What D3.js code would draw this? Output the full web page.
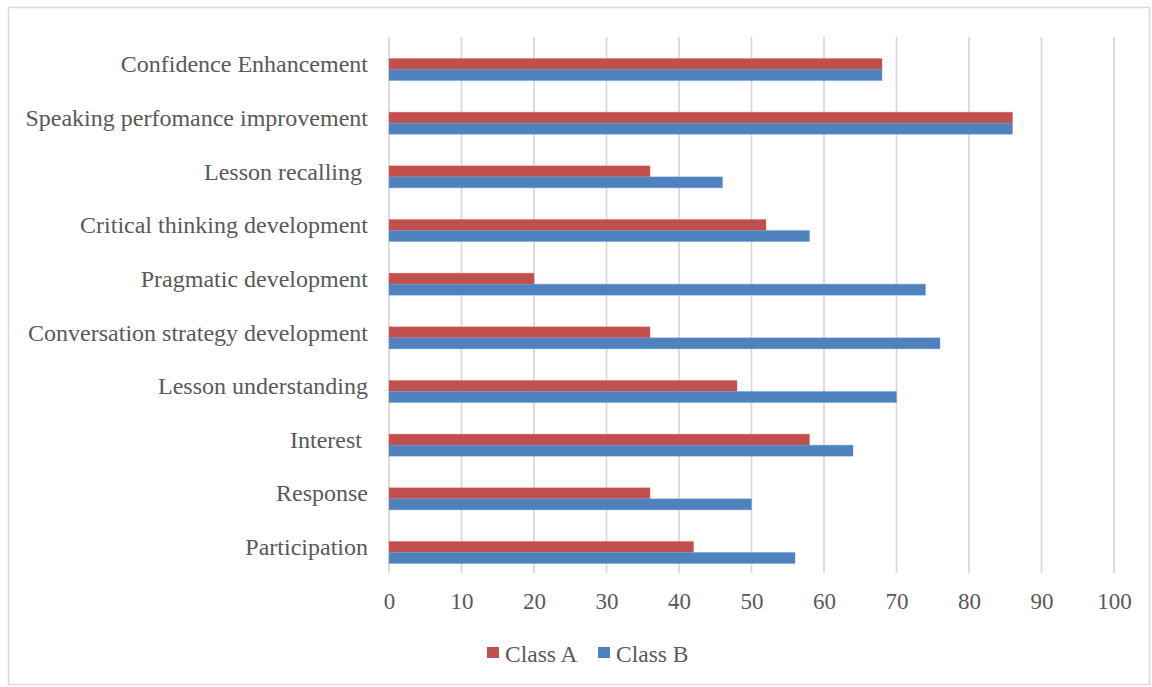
<!DOCTYPE html>
<html>
<head>
<meta charset="utf-8">
<script src="https://cdn.jsdelivr.net/npm/d3@7"></script>
<style>
  html, body { margin: 0; padding: 0; background: #fff; }
  svg { display: block; }
  text { font-family: "Liberation Serif", "Times New Roman", serif; fill: #595959; }
</style>
</head>
<body>
<svg id="chart" width="1152" height="687"></svg>
<script>
const categories = [
  "Confidence Enhancement",
  "Speaking perfomance improvement",
  "Lesson recalling ",
  "Critical thinking development",
  "Pragmatic development",
  "Conversation strategy development",
  "Lesson understanding",
  "Interest ",
  "Response",
  "Participation"
];
const classA = [68, 86, 36, 52, 20, 36, 48, 58, 36, 42];
const classB = [68, 86, 46, 58, 74, 76, 70, 64, 50, 56];
const seriesNames = ["Class A", "Class B"];
const seriesColors = ["#C0504D", "#4F81BD"];
const tickValues = [0, 10, 20, 30, 40, 50, 60, 70, 80, 90, 100];

const svg = d3.select("#chart");

// outer frame
svg.append("rect")
  .attr("x", 8.5).attr("y", 7.5).attr("width", 1141).attr("height", 677)
  .attr("fill", "#fff").attr("stroke", "#d9d9d9").attr("stroke-width", 1.5);

const x = d3.scaleLinear().domain([0, 100]).range([389, 1114]);
const y = d3.scaleBand().domain(categories).range([42.7, 579.3]).paddingInner(0).paddingOuter(0);
const gridTop = 37, gridBottom = 573;

// gridlines
svg.append("g").selectAll("line").data(tickValues).join("line")
  .attr("x1", d => x(d)).attr("x2", d => x(d))
  .attr("y1", gridTop).attr("y2", gridBottom)
  .attr("stroke", "#d9d9d9").attr("stroke-width", 1.75);

// bars
const barH = 11;
const series = [classA, classB];
series.forEach((vals, si) => {
  svg.append("g").selectAll("rect").data(categories).join("rect")
    .attr("x", x(0))
    .attr("y", (c) => y(c) + y.bandwidth() / 2 - barH + si * barH)
    .attr("width", (c, i) => x(vals[i]) - x(0))
    .attr("height", barH)
    .attr("fill", seriesColors[si])
    .attr("stroke", d3.color(seriesColors[si]).brighter(0.6))
    .attr("stroke-opacity", 0.5)
    .attr("stroke-width", 0.8);
});

// x axis tick labels
const xAxis = d3.axisBottom(x).tickValues(tickValues).tickSize(0).tickPadding(0);
const gx = svg.append("g").attr("transform", `translate(0, 593)`).call(xAxis);
gx.select(".domain").remove();
gx.selectAll("text")
  .attr("dy", "0.71em")
  .style("font-family", '"Liberation Serif", "Times New Roman", serif')
  .style("font-size", "23px").attr("fill", "#595959");

// y axis category labels
const yAxis = d3.axisLeft(y).tickSize(0).tickPadding(0);
const gy = svg.append("g").attr("transform", `translate(368, -5)`).call(yAxis);
gy.select(".domain").remove();
gy.selectAll("text")
  .style("font-family", '"Liberation Serif", "Times New Roman", serif')
  .style("font-size", "24px").attr("fill", "#595959")
  .attr("xml:space", "preserve").style("white-space", "pre");

// legend
const legendItems = [
  { name: seriesNames[0], color: seriesColors[0], sx: 487, tx: 505 },
  { name: seriesNames[1], color: seriesColors[1], sx: 598, tx: 616 }
];
const lg = svg.append("g");
lg.selectAll("rect").data(legendItems).join("rect")
  .attr("x", d => d.sx).attr("y", 647).attr("width", 12).attr("height", 11)
  .attr("fill", d => d.color);
lg.selectAll("text").data(legendItems).join("text")
  .attr("x", d => d.tx).attr("y", 662)
  .style("font-size", "23.5px")
  .text(d => d.name);
</script>
</body>
</html>
